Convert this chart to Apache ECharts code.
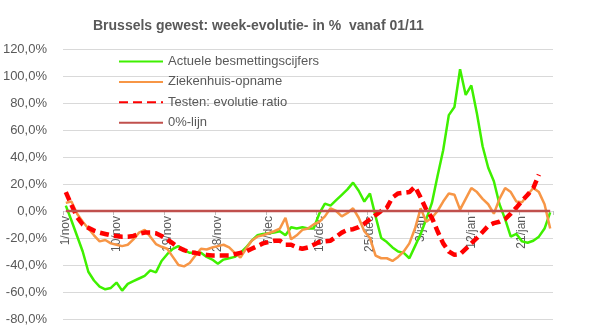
<!DOCTYPE html>
<html>
<head>
<meta charset="utf-8">
<script src="https://cdn.jsdelivr.net/npm/echarts@6/dist/echarts.min.js"></script>
<style>
  html, body { margin: 0; padding: 0; background: #ffffff; }
  #chart { width: 589px; height: 331px; }
</style>
</head>
<body>
<div id="chart"></div>
<script>
// Daily categories, 1 November to 26 January
const categories = [
  '1/nov','2/nov','3/nov','4/nov','5/nov','6/nov','7/nov','8/nov','9/nov','10/nov',
  '11/nov','12/nov','13/nov','14/nov','15/nov','16/nov','17/nov','18/nov','19/nov','20/nov',
  '21/nov','22/nov','23/nov','24/nov','25/nov','26/nov','27/nov','28/nov','29/nov','30/nov',
  '1/dec','2/dec','3/dec','4/dec','5/dec','6/dec','7/dec','8/dec','9/dec','10/dec',
  '11/dec','12/dec','13/dec','14/dec','15/dec','16/dec','17/dec','18/dec','19/dec','20/dec',
  '21/dec','22/dec','23/dec','24/dec','25/dec','26/dec','27/dec','28/dec','29/dec','30/dec','31/dec',
  '1/jan','2/jan','3/jan','4/jan','5/jan','6/jan','7/jan','8/jan','9/jan','10/jan',
  '11/jan','12/jan','13/jan','14/jan','15/jan','16/jan','17/jan','18/jan','19/jan','20/jan',
  '21/jan','22/jan','23/jan','24/jan','25/jan','26/jan'
];

// Week-on-week evolution in %
const besmettingen = [
  4, -7, -18.5, -30, -45, -51.5, -56, -58, -57, -53,
  -59, -54, -52, -50, -48, -44, -45.5, -37, -32, -28,
  -26, -29, -31, -31, -31, -34, -36, -39, -36, -35,
  -34, -31, -27, -22, -18, -17, -16.5, -16, -15, -18,
  -12, -13, -12, -13, -13, -2, 5.5, 4, 8, 12,
  16, 21, 15, 7, 13, -4, -20, -23, -27, -30,
  -31, -35, -26, -17, -6, 6, 26, 45, 71, 77,
  105, 86, 93, 72, 48, 32, 22, 5, -6, -19,
  -17, -22.5, -23.5, -22, -19, -13, -1
];

const ziekenhuis = [
  6, 7, -2, -8, -13, -18, -22.5, -21.5, -24, -25,
  -26, -25, -21, -16, -14, -19, -24.5, -26.5, -28, -34,
  -40, -41, -38.5, -33, -28, -28.5, -27, -26, -25, -27,
  -31, -34.5, -28, -22, -19, -18, -16.5, -15, -13, -5,
  -21, -18, -14, -13, -10, -8, -4, 2, 0, -4,
  -1.5, 2, -5, -15, -20, -33, -35, -35, -37, -34,
  -30, -24, -13, 2, -8, -5, 0, 7, 13, 12,
  1, 9, 17, 14, 9, 5, -2, 9, 17, 14,
  7, 6.5, 12, 17, 14, 5, -13
];

const testenRatio = [
  14, 4.5, -4.5, -10, -12.5, -14.5, -16, -17, -18, -18.5,
  -19, -19, -18.5, -17, -16, -16, -16.5, -18.5, -21, -24,
  -27, -29, -30.5, -31, -32, -32.5, -33, -33, -33, -33,
  -32, -31, -30, -28, -26, -24, -23, -22, -22, -25,
  -25, -27, -28, -27, -25, -23, -22.5, -22, -19, -16,
  -14, -13.5, -12, -9.5, -6, -3, 0, 2.5, 10, 13,
  13.5, 14, 18, 10, 1, -5, -15, -24, -30, -32.5,
  -32, -28, -24, -20, -15.5, -11, -9, -8, -6, -2,
  2.5, 7.5, 12, 17, 27, null, null
];

const nulLijn = categories.map(() => 0);

const yTicks = { min: -80, max: 120, step: 20 };

const textColor = '#595959';
const font = 'Liberation Sans';

// plot box
const gridTop = 49, gridBottom = 12, chartHeight = 331;
const plotHeight = chartHeight - gridTop - gridBottom;
// distance from the bottom edge of the plot up to the 0 value
const zeroOffset = plotHeight * (0 - yTicks.min) / (yTicks.max - yTicks.min);

const chart = echarts.init(document.getElementById('chart'), null, { renderer: 'canvas' });

chart.setOption({
  animation: false,
  backgroundColor: '#ffffff',
  title: {
    text: 'Brussels gewest: week-evolutie- in %  vanaf 01/11',
    left: 93,
    top: 19,
    padding: 0,
    textStyle: { fontFamily: font, fontSize: 14, fontWeight: 'bold', color: textColor }
  },
  legend: {
    orient: 'vertical',
    left: 118,
    top: 55,
    padding: 0,
    itemWidth: 44,
    itemHeight: 13,
    itemGap: 7.4,
    itemStyle: { opacity: 0 },
    textStyle: { fontFamily: font, fontSize: 13, color: textColor },
    data: ['Actuele besmettingscijfers', 'Ziekenhuis-opname', 'Testen: evolutie ratio', '0%-lijn']
  },
  grid: { left: 63, right: 36, top: gridTop, bottom: gridBottom, containLabel: false, outerBoundsMode: 'none' },
  xAxis: {
    type: 'category',
    data: categories,
    boundaryGap: true,
    position: 'bottom',
    offset: -zeroOffset,
    axisLine: { show: false, onZero: false },
    axisTick: { show: true, interval: 8, length: 4, lineStyle: { color: '#bfbfbf' } },
    axisLabel: {
      interval: 8,
      rotate: 90,
      margin: 5,
      fontFamily: font,
      fontSize: 12,
      color: textColor
    },
    splitLine: { show: false }
  },
  yAxis: {
    type: 'value',
    min: yTicks.min,
    max: yTicks.max,
    interval: yTicks.step,
    axisLine: { show: false },
    axisTick: { show: false },
    axisLabel: {
      margin: 16,
      fontFamily: font,
      fontSize: 13,
      color: textColor,
      formatter: v => v.toFixed(1).replace('.', ',') + '%'
    },
    splitLine: { lineStyle: { color: '#d9d9d9', width: 1 } }
  },
  series: [
    {
      name: 'Actuele besmettingscijfers',
      type: 'line',
      data: besmettingen,
      symbol: 'none',
      color: '#3ff000',
      lineStyle: { color: '#3ff000', width: 2.5 }
    },
    {
      name: 'Ziekenhuis-opname',
      type: 'line',
      data: ziekenhuis,
      symbol: 'none',
      color: '#f79646',
      lineStyle: { color: '#f79646', width: 2.5 }
    },
    {
      name: 'Testen: evolutie ratio',
      type: 'line',
      data: testenRatio,
      symbol: 'none',
      color: '#ff0000',
      lineStyle: { color: '#ff0000', width: 4.5, type: [9, 5], cap: 'butt' }
    },
    {
      name: '0%-lijn',
      type: 'line',
      data: nulLijn,
      symbol: 'none',
      color: '#c0504d',
      lineStyle: { color: '#c0504d', width: 2.5 }
    }
  ]
});
</script>
</body>
</html>
